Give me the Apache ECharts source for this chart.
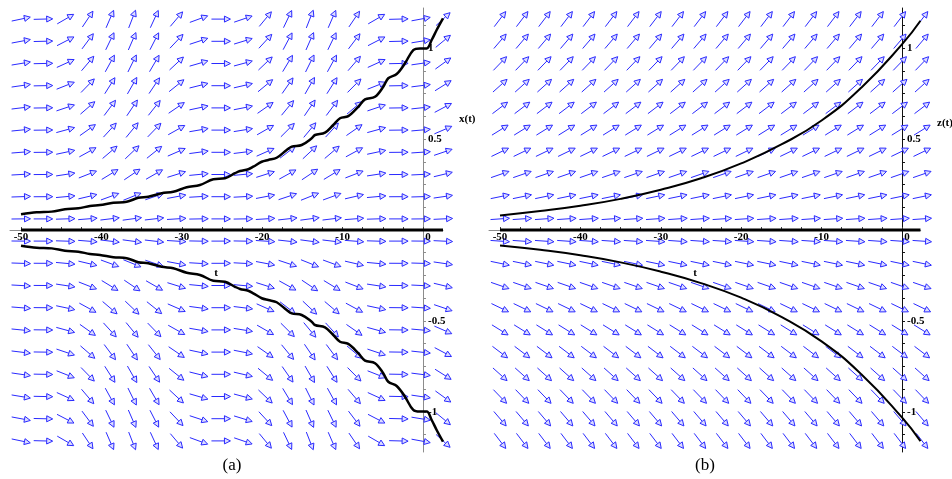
<!DOCTYPE html>
<html><head><meta charset="utf-8">
<script src="https://cdn.jsdelivr.net/npm/echarts@6/dist/echarts.min.js"></script>
<style>html,body{margin:0;padding:0;background:#fff}#c{width:952px;height:479px}</style>
</head><body><div id="c"></div>
<script>
// ---- direction-field grid ----
const fieldT = [-50, -47.24, -44.47, -41.71, -38.95, -36.18, -33.42, -30.66, -27.89, -25.13,
                -22.37, -19.61, -16.84, -14.08, -11.32, -8.55, -5.79, -3.03, -0.26, 2.5];
const fieldX = [-1.159, -1.037, -0.915, -0.793, -0.671, -0.549, -0.427, -0.305, -0.183, -0.061,
                0.061, 0.183, 0.305, 0.427, 0.549, 0.671, 0.793, 0.915, 1.037, 1.159];
// per-column growth factor k (arrow slope dx/dt = k * x)
const rateA = [0.008, 0.001, 0.022, 0.057, 0.088, 0.098, 0.083, 0.045, 0.014, 0.000,
               0.013, 0.046, 0.080, 0.097, 0.088, 0.056, 0.022, 0.001, 0.007, 0.035];
const rateB = [0.05, 0.05, 0.05, 0.05, 0.05, 0.05, 0.05, 0.05, 0.05, 0.05,
               0.05, 0.05, 0.05, 0.05, 0.05, 0.05, 0.05, 0.05, 0.05, 0.05];

// ---- solution curves, panel (a) ----
const curveAT = [-50, -48.05, -46.18, -44.53, -42.87, -41.42, -40.17, -38.52, -36.85, -35.41,
                 -34.17, -32.50, -31.06, -29.39, -27.74, -26.08, -24.63, -23.38, -22.76, -21.73,
                 -21.11, -20.06, -19.24, -18.20, -16.95, -16.33, -15.09, -13.84, -13.43, -12.19,
                 -11.16, -10.32, -9.29, -8.05, -7.21, -5.97, -4.94, -4.32, -3.27, -2.24,
                 -1.21, -0.37, 0.46, 1.08, 1.70, 2.49];
const curveAUpperX = [0.086, 0.097, 0.101, 0.114, 0.119, 0.132, 0.137, 0.150, 0.155, 0.177,
                      0.183, 0.202, 0.210, 0.235, 0.247, 0.279, 0.284, 0.312, 0.324, 0.334,
                      0.348, 0.375, 0.385, 0.397, 0.440, 0.458, 0.467, 0.504, 0.522, 0.535,
                      0.577, 0.614, 0.626, 0.677, 0.718, 0.732, 0.787, 0.834, 0.857, 0.916,
                      0.989, 0.998, 0.998, 1.044, 1.099, 1.163];
const curveALowerX = [-0.086, -0.097, -0.101, -0.114, -0.119, -0.132, -0.137, -0.150, -0.155, -0.177,
                      -0.183, -0.202, -0.210, -0.235, -0.247, -0.279, -0.284, -0.312, -0.324, -0.334,
                      -0.348, -0.375, -0.385, -0.397, -0.440, -0.458, -0.467, -0.504, -0.522, -0.535,
                      -0.577, -0.614, -0.626, -0.677, -0.718, -0.732, -0.787, -0.834, -0.857, -0.916,
                      -0.989, -0.998, -0.998, -1.044, -1.099, -1.163];
const zeroAT = [-50, 2.49];
const zeroAX = [0, 0];

// ---- solution curves, panel (b) ----
const curveBT = [-50, -45, -40, -35, -30, -25, -20, -15, -10, -5, 0, 2.3];
const curveBUpperZ = [0.08, 0.104, 0.133, 0.171, 0.221, 0.284, 0.366, 0.47, 0.602, 0.785, 1.02, 1.15];
const curveBLowerZ = [-0.085, -0.109, -0.139, -0.178, -0.229, -0.292, -0.372, -0.477, -0.612, -0.795, -1.03, -1.16];
const zeroBT = [-50, 2.3];
const zeroBX = [0, 0];

// ---- ticks / labels ----
const tLabels = [-50, -40, -30, -20, -10, 0];
const tTicks = [-50, -47.5, -45, -42.5, -40, -37.5, -35, -32.5, -30, -27.5, -25, -22.5, -20,
                -17.5, -15, -12.5, -10, -7.5, -5, -2.5, 0, 2.5];
const yLabels = [-1, -0.5, 0.5, 1];
const yTicks = [-1.125, -1, -0.875, -0.75, -0.625, -0.5, -0.375, -0.25, -0.125,
                0.125, 0.25, 0.375, 0.5, 0.625, 0.75, 0.875, 1, 1.125];

const SERIF = "'Liberation Serif','Times New Roman',serif";
const TICKFONT = 'bold 11px ' + SERIF;
const zip = (a, b) => a.map((v, i) => [v, b[i]]);

function arrowSeries(idx, rates) {
  const data = [];
  fieldT.forEach((t, i) => fieldX.forEach(x => data.push([t, x, rates[i]])));
  return {
    type: 'custom', xAxisIndex: idx, yAxisIndex: idx, data, silent: true, z: 1, clip: false,
    renderItem(params, api) {
      const t = api.value(0), x = api.value(1), g = api.value(2);
      const p0 = api.coord([t, x]);
      const p1 = api.coord([t + 1, x + g * x]);
      let dx = p1[0] - p0[0], dy = p1[1] - p0[1];
      const len = Math.hypot(dx, dy); dx /= len; dy /= len;
      const L = 19, H = 6, W = 3;
      const tail = [p0[0] - dx * L / 2, p0[1] - dy * L / 2];
      const tip = [p0[0] + dx * L / 2, p0[1] + dy * L / 2];
      const base = [tip[0] - dx * H, tip[1] - dy * H];
      const nx = -dy, ny = dx;
      return { type: 'group', children: [
        { type: 'line', shape: { x1: tail[0], y1: tail[1], x2: base[0], y2: base[1] },
          style: { stroke: '#2a2aff', lineWidth: 1 } },
        { type: 'polygon', shape: { points: [tip, [base[0] + nx * W, base[1] + ny * W], [base[0] - nx * W, base[1] - ny * W]] },
          style: { stroke: '#2a2aff', fill: '#dcdcff', lineWidth: 1 } }
      ] };
    }
  };
}

function lineSeries(idx, t, x, width, smooth) {
  return { type: 'line', xAxisIndex: idx, yAxisIndex: idx, data: zip(t, x), showSymbol: false,
           smooth: smooth, silent: true, z: 3, clip: false,
           lineStyle: { color: '#000', width: width } };
}

// tick labels drawn at axis positions through the axis scales
function tLabelSeries(idx) {
  return { type: 'custom', xAxisIndex: idx, yAxisIndex: idx, data: tLabels.map(v => [v, 0]),
    silent: true, z: 5, clip: false,
    renderItem(params, api) {
      const v = api.value(0);
      const p = api.coord([v, 0]);
      return { type: 'text', x: p[0] + (v === 0 ? 5 : 0), y: p[1] + 2,
        style: { text: String(v), font: TICKFONT, fill: '#000', align: 'center', verticalAlign: 'top' } };
    } };
}
function yLabelSeries(idx) {
  return { type: 'custom', xAxisIndex: idx, yAxisIndex: idx, data: yLabels.map(v => [0, v]),
    silent: true, z: 5, clip: false,
    renderItem(params, api) {
      const v = api.value(1);
      const p = api.coord([0, v]);
      return { type: 'text', x: p[0] + 5, y: p[1],
        style: { text: String(v), font: TICKFONT, fill: '#000', align: 'left', verticalAlign: 'middle' } };
    } };
}

function xAxisDef(idx, max) {
  return { gridIndex: idx, type: 'value', min: -51.37, max: max,
    axisLine: { onZero: true, onZeroAxisIndex: idx, lineStyle: { color: '#8c8c8c', width: 1 } },
    axisTick: { show: true, inside: true, length: 3, customValues: tTicks, lineStyle: { color: '#444' } },
    axisLabel: { show: false },
    splitLine: { show: false } };
}
function yAxisDef(idx, color) {
  return { gridIndex: idx, type: 'value', min: -1.22, max: 1.22,
    axisLine: { onZero: true, onZeroAxisIndex: idx, lineStyle: { color: color, width: 1 } },
    axisTick: { show: true, inside: true, length: 3, customValues: yTicks, lineStyle: { color: color } },
    axisLabel: { show: false },
    splitLine: { show: false } };
}

const txt = (text, x, y, size, bold, align) => ({ type: 'text', x, y, z: 10,
  style: { text, fill: '#000', font: (bold ? 'bold ' : '') + size + 'px ' + SERIF, align: align || 'center', verticalAlign: 'middle' } });

const chart = echarts.init(document.getElementById('c'), null, { renderer: 'canvas' });
chart.setOption({
  animation: false,
  backgroundColor: '#fff',
  grid: [
    { left: 10, top: 8, width: 433, height: 444 },
    { left: 489, top: 8, width: 431.7, height: 444 }
  ],
  xAxis: [xAxisDef(0, 2.49), xAxisDef(1, 2.33)],
  yAxis: [yAxisDef(0, '#8c8c8c'), yAxisDef(1, '#111')],
  series: [
    arrowSeries(0, rateA),
    arrowSeries(1, rateB),
    lineSeries(0, curveAT, curveAUpperX, 2.5, 0.35),
    lineSeries(0, curveAT, curveALowerX, 2.5, 0.35),
    lineSeries(0, zeroAT, zeroAX, 3, false),
    lineSeries(1, curveBT, curveBUpperZ, 2, true),
    lineSeries(1, curveBT, curveBLowerZ, 2, true),
    lineSeries(1, zeroBT, zeroBX, 3, false),
    tLabelSeries(0), tLabelSeries(1), yLabelSeries(0), yLabelSeries(1)
  ],
  graphic: [
    txt('x(t)', 459, 119, 11, true, 'left'),
    txt('t', 216, 273, 11, true),
    txt('z(t)', 937, 123, 11, true, 'left'),
    txt('t', 695, 273, 11, true),
    txt('(a)', 232, 466, 17, false),
    txt('(b)', 705, 466, 17, false)
  ]
});
</script>
</body></html>
